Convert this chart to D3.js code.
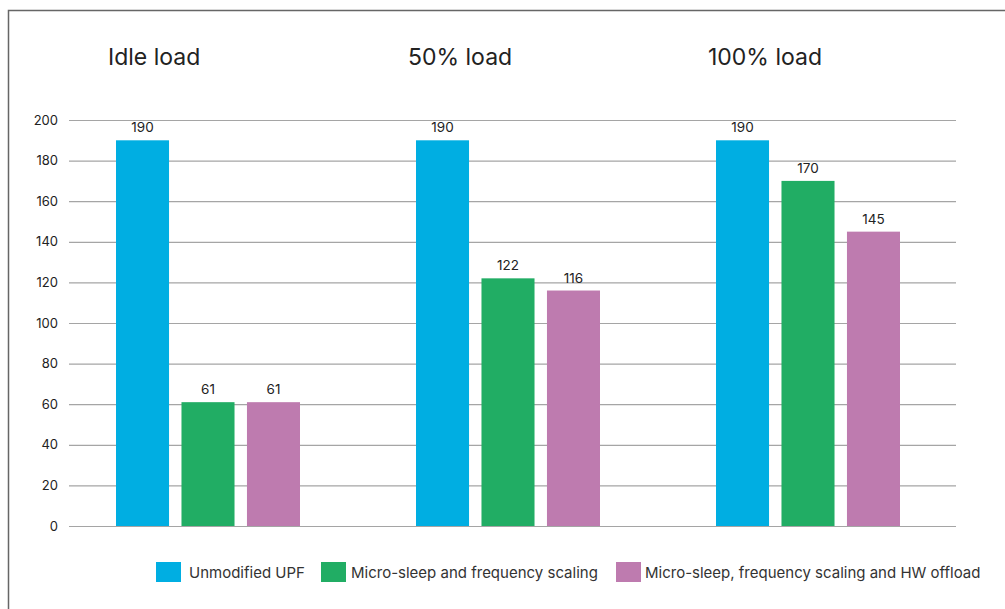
<!DOCTYPE html>
<html><head><meta charset="utf-8">
<script src="https://cdn.jsdelivr.net/npm/d3@7"></script>
<style>body{margin:0;background:#fff}svg{display:block}</style>
</head><body><svg id="c" width="1005" height="609"></svg>
<script>
const groups = ["Idle load", "50% load", "100% load"];
const seriesNames = ["Unmodified UPF", "Micro-sleep and frequency scaling", "Micro-sleep, frequency scaling and HW offload"];
const unmodified = [190, 190, 190];
const microSleep = [61, 122, 170];
const hwOffload = [61, 116, 145];
const yTicks = [0, 20, 40, 60, 80, 100, 120, 140, 160, 180, 200];
const colors = ["#00aee2", "#21ad64", "#be7baf"];

const series = [unmodified, microSleep, hwOffload];
const svg = d3.select("#c");
const font = "Inter, 'Open Sans', sans-serif";

// frame
svg.append("path").attr("d", "M8.5,609 V10.5 H1005").attr("fill", "none").attr("stroke", "#666").attr("stroke-width", 1.5);

const y = d3.scaleLinear().domain([0, 200]).range([526, 120]);
const x0 = d3.scaleBand().domain(groups).range([66, 966]).paddingInner(0).paddingOuter(0);
const x1 = d3.scaleBand().domain(d3.range(3)).range([0, 184]).paddingInner(0.19);
const groupOffset = 50;

// grid
const gAxis = svg.append("g").attr("transform", "translate(69,0)");
gAxis.call(d3.axisLeft(y).tickValues(yTicks).tickSize(-887).tickPadding(11).tickFormat(d3.format("d")));
gAxis.select(".domain").remove();
gAxis.selectAll(".tick line").attr("stroke", "#a5a5a5").attr("stroke-width", 1.2);
gAxis.selectAll(".tick text").attr("fill", "#222").attr("font-size", 13).attr("font-family", font);

// bars
groups.forEach((g, gi) => {
  const gx = x0(g) + groupOffset;
  const gg = svg.append("g").attr("transform", `translate(${gx},0)`);
  series.forEach((s, si) => {
    gg.append("rect").attr("x", x1(si)).attr("y", y(s[gi])).attr("width", x1.bandwidth())
      .attr("height", y(0) - y(s[gi])).attr("fill", colors[si]);
    gg.append("text").attr("x", x1(si) + x1.bandwidth() / 2).attr("y", y(s[gi]) - 8)
      .attr("text-anchor", "middle").attr("font-size", 13.5).attr("font-family", font).attr("fill", "#222")
      .text(s[gi]);
  });
  svg.append("text").attr("x", gx - 8).attr("y", 65).attr("font-size", 23).attr("font-family", font)
    .attr("fill", "#222").text(g);
});

// legend
const legX = [156, 321, 616];
const legTextX = [189, 351, 645];
seriesNames.forEach((n, i) => {
  svg.append("rect").attr("x", legX[i]).attr("y", 562).attr("width", 25).attr("height", 20).attr("fill", colors[i]);
  svg.append("text").attr("x", legTextX[i]).attr("y", 578).attr("font-size", 15).attr("font-family", font)
    .attr("fill", "#333").text(n);
});
</script></body></html>
